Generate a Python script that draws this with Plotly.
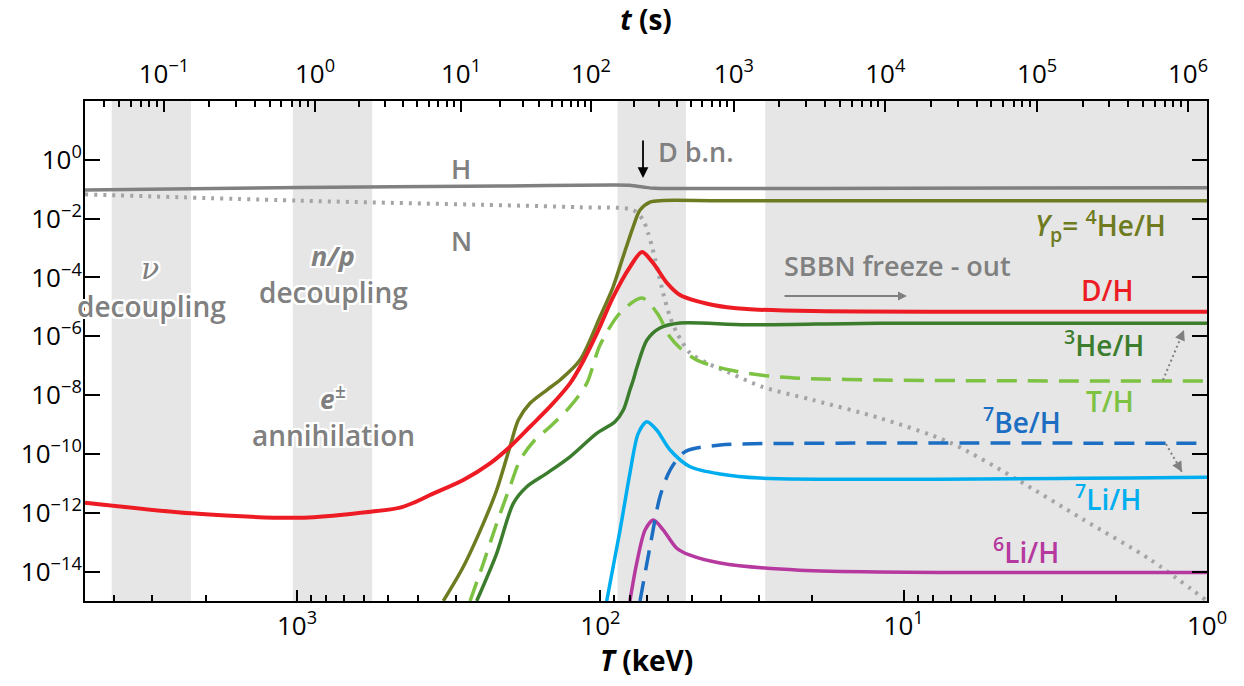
import numpy as np
import plotly.graph_objects as go

FONT = "Open Sans"
TXT_GRAY = "#808080"

# ---------------- data: temperature T (keV) and abundance relative to H ----------------
T_H = [5000, 977, 214, 90.8, 79.9, 72.3, 66.0, 46.9, 10.0, 1.0]
Y_H = [0.094, 0.114, 0.128, 0.139, 0.136, 0.119, 0.107, 0.106, 0.108, 0.112]

T_N = [5000, 977, 116.7, 78.0, 72.3, 69.6, 67.5, 65.0, 62.1, 58.9, 55.9, 50.6, 44.5,
       37.4, 29.1, 19.9, 12.0, 7.04, 4.23, 2.56, 1.54, 1.0]
Y_N = [0.067, 0.0407, 0.0243, 0.0196, 8.97e-3, 3.24e-3, 1.08e-3, 2.26e-4, 2.96e-5,
       4.52e-6, 1.29e-6, 2.70e-7, 1.23e-7, 5.64e-8, 1.88e-8, 6.8e-9, 1.66e-9,
       2.45e-10, 1.35e-11, 5.9e-13, 2.58e-14, 1.0e-15]

T_He4 = [329.4, 283.0, 243.1, 219.6, 198.6, 186.4, 170.6, 150.2, 135.8, 116.7, 100.3,
         90.8, 84.2, 78.0, 74.0, 68.6, 62.1, 40.0, 1.0]
Y_He4 = [1e-15, 1.46e-14, 4.37e-13, 5.93e-12, 1.76e-10, 1.42e-9, 5.26e-9, 1.49e-8,
         3.26e-8, 1.56e-7, 4.54e-6, 4.73e-5, 4.95e-4, 5.19e-3, 0.0196, 0.0367, 0.0413,
         0.0408, 0.0407]

T_D = [5000, 2236, 977.5, 669, 457.6, 408, 364.4, 283.0, 231.0, 198.6, 170.6, 146.6,
       125.9, 116.7, 102.6, 90.8, 79.9, 72.9, 67.0, 60.3, 54.6, 42.5, 32.9, 19.9, 1.0]
Y_D = [2.19e-12, 9.55e-13, 6.76e-13, 9.1e-13, 1.5e-12, 2.3e-12, 4.0e-12, 1.30e-11,
       4.79e-11, 1.76e-10, 8.4e-10, 4.03e-9, 2.5e-8, 9.0e-8, 1.29e-6, 2.16e-5, 2.26e-4,
       7.33e-4, 3.1e-4, 6.47e-5, 2.53e-5, 1.16e-5, 8.45e-6, 7.2e-6, 6.84e-6]

T_He3 = [255.6, 219.6, 193.6, 174.8, 150.2, 125.9, 102.8, 89.5, 84.0, 79.9, 77.9, 75.7,
         70.2, 63.6, 54.6, 32.9, 12.0, 1.0]
Y_He3 = [1e-15, 4.17e-14, 2.09e-12, 7.67e-12, 2.19e-11, 8.0e-11, 5.0e-10, 1.24e-9,
         3.11e-9, 1.49e-8, 3.26e-8, 9.0e-8, 7.46e-7, 1.91e-6, 2.82e-6, 2.45e-6, 2.78e-6,
         2.76e-6]

T_T = [268.9, 243.1, 219.6, 198.6, 184.0, 166.3, 146.6, 125.9, 110.9, 100.3, 86.1, 72.9,
       65.0, 58.9, 54.6, 48.0, 37.4, 25.6, 12.0, 1.0]
Y_T = [1e-15, 1.91e-14, 4.37e-13, 7.67e-12, 6.2e-11, 2.6e-10, 8.4e-10, 4.03e-9, 2.5e-8,
       5.0e-7, 6.2e-6, 2.0e-5, 6.2e-6, 9.4e-7, 4.0e-7, 1.55e-7, 7.1e-8, 4.1e-8, 3.27e-8,
       3.0e-8]

T_Be7 = [74.0, 68.6, 63.6, 58.9, 52.6, 40.3, 22.0, 1.0]
Y_Be7 = [1e-15, 7.0e-14, 3.5e-12, 2.84e-11, 1.19e-10, 2.0e-10, 2.29e-10, 2.29e-10]

T_Li7 = [95.3, 86.1, 79.9, 75.0, 70.3, 65.2, 58.9, 50.6, 40.3, 29.8, 1.0]
Y_Li7 = [1e-15, 2.58e-13, 2.19e-11, 5.0e-10, 1.24e-9, 6.5e-10, 1.36e-10, 3.67e-11,
         2.07e-11, 1.51e-11, 1.6e-11]

T_Li6 = [79.9, 75.9, 71.2, 66.9, 62.0, 56.0, 50.6, 40.3, 22.0, 1.0]
Y_Li6 = [1e-15, 1.91e-14, 2.58e-13, 5.65e-13, 2.58e-13, 6.2e-14, 3.6e-14, 1.95e-14,
         1.12e-14, 9.4e-15]

# shaded epochs (keV)
BANDS = [(4083, 2236), (1032, 565), (87.8, 52.2), (28.6, 1.0)]

# axis ticks
T_MAJOR = [1000, 100, 10, 1]
T_MAJOR_EXP = [3, 2, 1, 0]
Y_EXP = [0, -2, -4, -6, -8, -10, -12, -14]
# time axis: t (s) exponents and the temperature (keV) where each falls
t_exp = [-1, 0, 1, 2, 3, 4, 5, 6]
T_at_t = [2745, 872.6, 288, 107.4, 36.3, 11.5, 3.63, 1.155]

X_RANGE = [np.log10(5000), 0]
Y_RANGE = [-15, 2]

def pow_label(e):
    s = ("−%d" % -e) if e < 0 else "%d" % e
    return "10<sup>%s</sup>" % s

# ---------------- figure ----------------
fig = go.Figure()

def add_line(T, Y, color, width=3.5, dash=None, smooth=0.8):
    fig.add_trace(go.Scatter(
        x=T, y=Y, mode="lines", hoverinfo="skip", showlegend=False,
        line=dict(color=color, width=width, dash=dash, shape="spline", smoothing=smooth)))

add_line(T_H, Y_H, "#808080", 3.5)
add_line(T_N, Y_N, "#a3a5a8", 4, dash="3px,6px")
add_line(T_He3, Y_He3, "#3b7d2c", 3.5)
add_line(T_T, Y_T, "#7dc242", 3.5, dash="20px,11px")
add_line(T_He4, Y_He4, "#6e7b20", 3.5)
add_line(T_Li6, Y_Li6, "#b5399e", 3.5)
add_line(T_Li7, Y_Li7, "#00aeef", 3.5)
add_line(T_Be7, Y_Be7, "#1b6ec2", 3.5, dash="20px,11px")
add_line(T_D, Y_D, "#ed1c24", 4)

# invisible trace so the top (time) axis is drawn
fig.add_trace(go.Scatter(x=T_H[:1], y=Y_H[:1], xaxis="x2", mode="markers",
                         marker=dict(opacity=0), hoverinfo="skip", showlegend=False))

for a, b in BANDS:
    fig.add_shape(type="rect", xref="x", yref="paper", x0=a, x1=b, y0=0, y1=1,
                  fillcolor="#e6e6e6", line_width=0, layer="below")

# minor ticks
T_minor = [m * 10 ** k for k in range(0, 4) for m in range(2, 10) if m * 10 ** k <= 5000]
lt = np.log10(T_at_t)
t_minor_T = []
for i in range(-1, len(t_exp) - 1):
    if i == -1:
        l0, slope = lt[0], lt[0] - lt[1]
        for m in range(2, 10):
            v = l0 + slope * (1 - np.log10(m))
            if v <= X_RANGE[0]:
                t_minor_T.append(10 ** v)
    else:
        for m in range(2, 10):
            v = lt[i] + (lt[i + 1] - lt[i]) * np.log10(m)
            t_minor_T.append(10 ** v)

axis_font = dict(family=FONT, size=26, color="black")

fig.update_layout(
    width=1244, height=686,
    margin=dict(l=85, r=37, t=101, b=85),
    paper_bgcolor="white", plot_bgcolor="white",
    xaxis=dict(type="log", range=X_RANGE, autorange=False, showgrid=False, zeroline=False,
               showline=True, linecolor="black", linewidth=2, mirror=True,
               tickmode="array", tickvals=T_MAJOR, ticktext=[pow_label(e) for e in T_MAJOR_EXP],
               ticks="inside", ticklen=11, tickwidth=1.5, tickcolor="black",
               tickfont=axis_font, ticklabelstandoff=1,
               minor=dict(tickmode="array", tickvals=T_minor, ticks="inside", ticklen=6,
                          tickwidth=1.5, tickcolor="black", showgrid=False)),
    xaxis2=dict(type="log", range=X_RANGE, autorange=False, overlaying="x", side="top",
                anchor="y", showgrid=False, zeroline=False, showline=False,
                tickmode="array", tickvals=T_at_t,
                ticktext=[pow_label(e) for e in t_exp],
                ticks="inside", ticklen=11, tickwidth=1.5, tickcolor="black",
                tickfont=axis_font, ticklabelstandoff=12,
                minor=dict(tickmode="array", tickvals=t_minor_T, ticks="inside", ticklen=6,
                           tickwidth=1.5, tickcolor="black", showgrid=False),
                title=dict(text="<b><i>t</i> (s)</b>", font=dict(family=FONT, size=28, color="black"),
                           standoff=14)),
    yaxis=dict(type="log", range=Y_RANGE, autorange=False, showgrid=False, zeroline=False,
               showline=True, linecolor="black", linewidth=2, mirror="ticks",
               tickmode="array", tickvals=[10.0 ** e for e in Y_EXP],
               ticktext=[pow_label(e) for e in Y_EXP],
               ticks="inside", ticklen=15, tickwidth=2, tickcolor="black",
               tickfont=axis_font, ticklabelstandoff=-4),
)

def P(x, y):
    return (x - 85) / 1122.0, (601 - y) / 500.0

halo = ", ".join("%dpx %dpx 0 white" % (dx, dy) for dx in (-2, 0, 2) for dy in (-2, 0, 2) if dx or dy)

def label(x, y, text, color, size=27, weight=600, shadow=None, anchor="center", family=FONT):
    px, py = P(x, y)
    f = dict(family=family, size=size, color=color, weight=weight)
    if shadow:
        f["shadow"] = shadow
    fig.add_annotation(x=px, y=py, xref="paper", yref="paper", text=text, showarrow=False,
                       xanchor=anchor, yanchor="middle", font=f)

# bottom axis title
label(646, 660, "<b><i>T</i> (keV)</b>", "black", size=28, weight=700)

label(461, 168, "H", TXT_GRAY)
label(461, 240, "N", TXT_GRAY)
label(696, 151, "D b.n.", TXT_GRAY)
label(897, 265, "SBBN freeze - out", TXT_GRAY)
label(150, 268, "<i>ν</i>", TXT_GRAY, size=30, weight=400, shadow=halo, family="DejaVu Serif")
label(151, 306, "decoupling", TXT_GRAY, size=28, shadow=halo)
label(333, 255, "<b><i>n/p</i></b>", TXT_GRAY, size=27, shadow=halo)
label(333, 292, "decoupling", TXT_GRAY, size=28, shadow=halo)
label(333, 397, "<b><i>e</i></b><sup>±</sup>", TXT_GRAY, size=27, shadow=halo)
label(333, 435, "annihilation", TXT_GRAY, size=28, shadow=halo)

label(1168, 225, "<i>Y</i><sub>p</sub>= <sup>4</sup>He/H", "#6e7b20", size=28, anchor="right")
label(1136, 290, "D/H", "#ed1c24", size=28, anchor="right")
label(1146, 343, "<sup>3</sup>He/H", "#3b7d2c", size=28, anchor="right")
label(1136, 401, "T/H", "#7dc242", size=28, anchor="right")
label(1063, 420, "<sup>7</sup>Be/H", "#1b6ec2", size=28, anchor="right")
label(1143, 497, "<sup>7</sup>Li/H", "#00aeef", size=28, anchor="right")
label(1061, 550, "<sup>6</sup>Li/H", "#b5399e", size=28, anchor="right")

# arrows (start pixel -> end pixel)
def arrow(x0, y0, x1, y1, color, width=2, head=2, size=1.0):
    bx, by = P(x1, y1)
    fig.add_annotation(x=bx, y=by, ax=x0 - x1, ay=y0 - y1, xref="paper", yref="paper",
                       axref="pixel", ayref="pixel", text="", showarrow=True,
                       arrowhead=head, arrowsize=size, arrowwidth=width, arrowcolor=color)

arrow(643, 139, 643, 178, "black", width=1.8, head=2, size=1.2)
arrow(783, 296, 907, 296, "#808080", width=1.8, head=2, size=1.0)

def dotted_arrow(x0, y0, x1, y1):
    ax, ay = P(x0, y0)
    bx, by = P(x1, y1)
    fig.add_shape(type="line", xref="paper", yref="paper", x0=ax, y0=ay, x1=bx, y1=by,
                  line=dict(color="#808080", width=2, dash="2px,3px"))
    fig.add_annotation(x=bx, y=by, ax=(x0 - x1) * 0.2, ay=(y0 - y1) * 0.2,
                       xref="paper", yref="paper", axref="pixel", ayref="pixel", text="",
                       showarrow=True, arrowhead=2, arrowsize=1.3, arrowwidth=1.6,
                       arrowcolor="#808080")

dotted_arrow(1163, 380, 1184, 330)
dotted_arrow(1166, 444, 1182, 472)

fig.write_html("out.html", config={"displayModeBar": False},
               post_script="document.body.style.margin='0';")
